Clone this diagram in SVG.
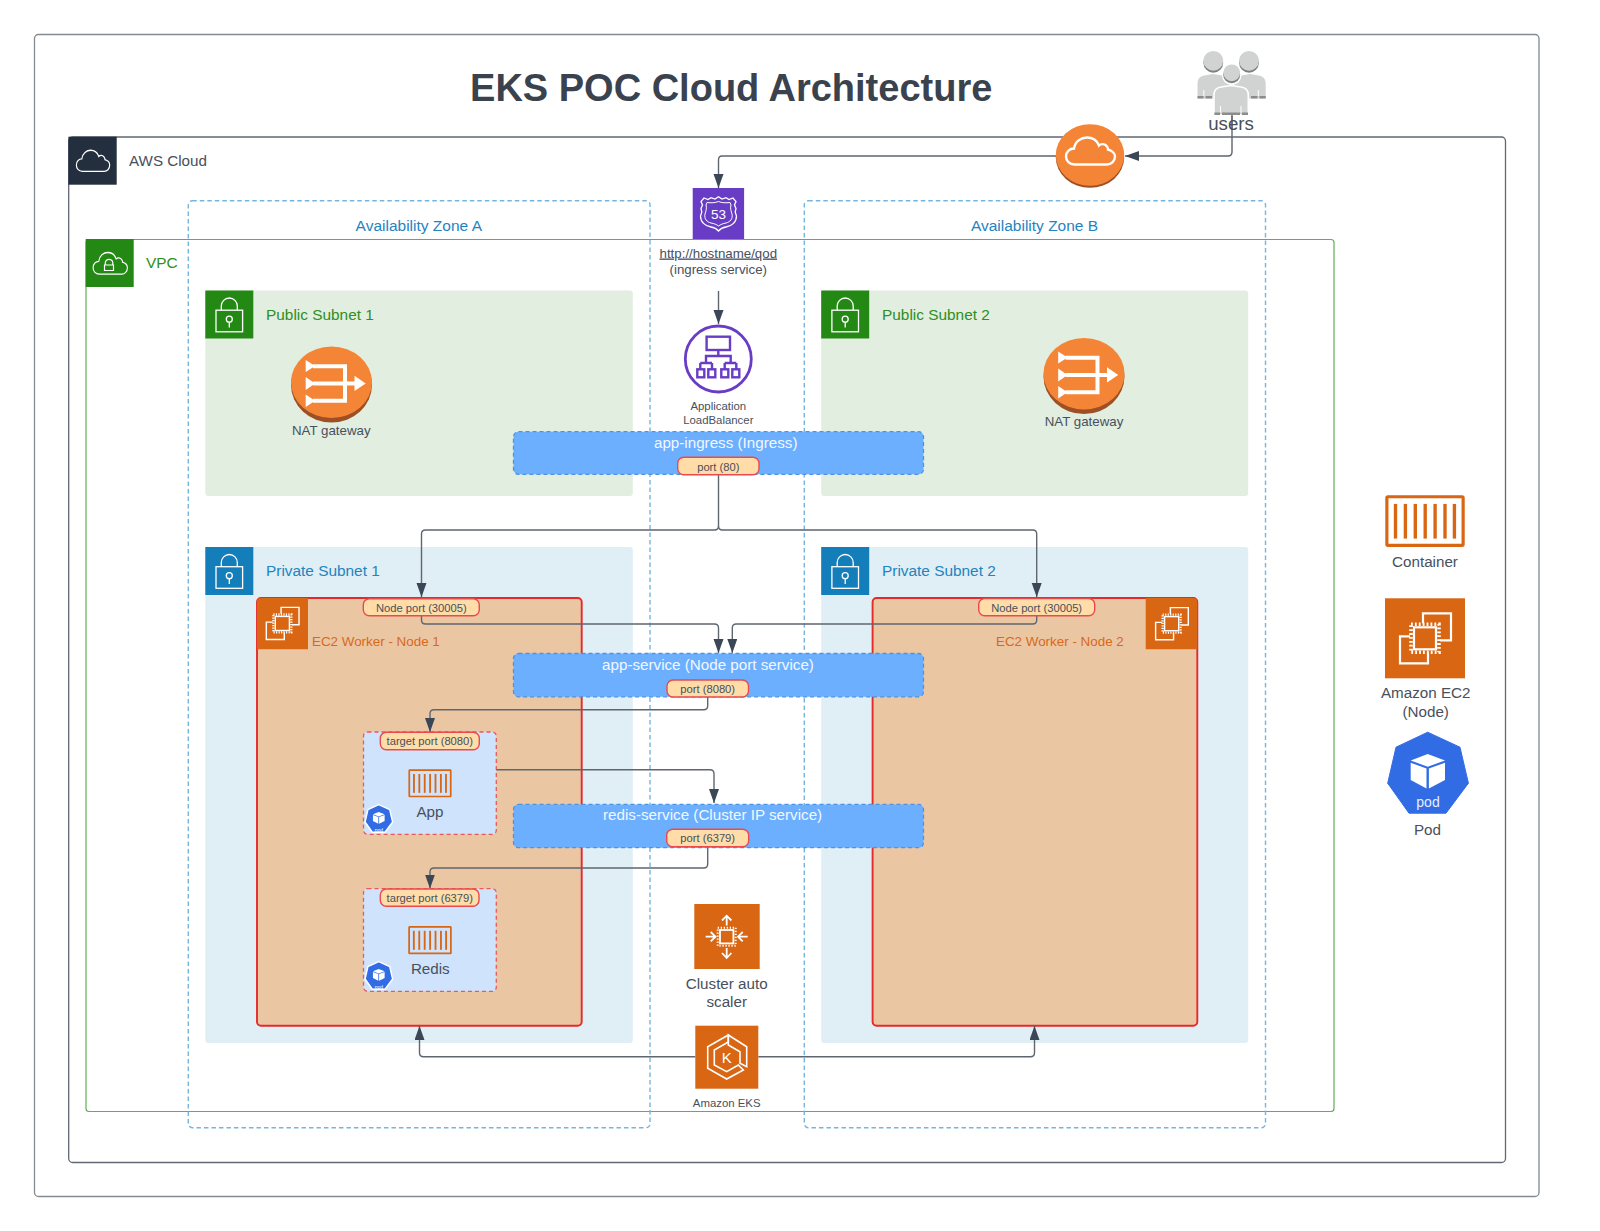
<svg xmlns="http://www.w3.org/2000/svg" width="1600" height="1231" viewBox="0 0 1600 1231">
<style>
text{font-family:"Liberation Sans",Arial,sans-serif;fill:#48505c}
.m{text-anchor:middle}
.l15{font-size:15.2px}
.az{font-size:15.5px;fill:#1f84bf;text-anchor:middle}
.grn{font-size:15.4px;fill:#2f8f20}
.blu{font-size:15.4px;fill:#1f84bf}
.org{font-size:13.4px;fill:#d8691b}
.port{font-size:11.2px;text-anchor:middle}
.svc{font-size:15.2px;fill:#f2f7ff;text-anchor:middle}
.pl{fill:#ffdca8;stroke:#ea4a4d;stroke-width:1.4}
.sv{fill:#6cafff;stroke:#4b93e6;stroke-width:1.3;stroke-dasharray:4 3}
.az-b{fill:none;stroke:#74b6de;stroke-width:1.4;stroke-dasharray:4.5 3}
.ec2{fill:#ebc6a3;stroke:#e52a2a;stroke-width:1.9}
.pod{fill:#cfe3fd;stroke:#ea5a5c;stroke-width:1.3;stroke-dasharray:4 3}
.c{fill:none;stroke:#5f6670;stroke-width:1.4}
.wl{fill:none;stroke:#fff;stroke-width:1.5}
</style>
<defs>
<marker id="arr" markerUnits="userSpaceOnUse" markerWidth="16" markerHeight="12" refX="14" refY="5" orient="auto"><path d="M0 0L14 5L0 10Z" fill="#3b4656"/></marker>
<path id="cloud" d="M10 28C4 28 1 24 1 20C1 15 5 12 9 12C10 5 16 1 22 1C28 1 32 4 34 9C36 7 40 7 42 10C43 11 43 12 43 13C47 14 50 17 50 20C50 25 46 28 42 28Z"/>
<symbol id="lock" viewBox="0 0 48 48" overflow="visible"><g class="wl" style="stroke-width:1.3"><rect x="10.7" y="19.7" width="26.6" height="21.6"/><path d="M16 19.7V15.500A8 8 0 0 1 32 15.500V19.700"/><circle cx="24" cy="28.700" r="3"/><path d="M24 31.700V37"/></g></symbol>
<symbol id="ec2i" viewBox="0 0 80 80" overflow="visible"><g class="wl" style="stroke-width:2.200"><path d="M38 25V15H66V42H55"/><path d="M25 38H15V65H43V54"/></g><rect x="26" y="26" width="28" height="28" fill="none" stroke="#fff" stroke-width="3.600" stroke-dasharray="1.800 2.100"/><rect x="29" y="29" width="22" height="22" fill="#d86613" stroke="#fff" stroke-width="2.200"/></symbol>
<symbol id="box" viewBox="0 0 80 52" overflow="visible"><rect x="1.500" y="1.500" width="77" height="49" fill="none" stroke="#d86613" stroke-width="3.200" rx="1"/><g fill="#d86613"><rect x="8.500" y="8.700" width="3.400" height="35"/><rect x="18.500" y="8.700" width="3.400" height="35"/><rect x="28.500" y="8.700" width="3.400" height="35"/><rect x="38.500" y="8.700" width="3.400" height="35"/><rect x="48.500" y="8.700" width="3.400" height="35"/><rect x="58.500" y="8.700" width="3.400" height="35"/><rect x="68" y="8.700" width="3.400" height="35"/></g></symbol>
<symbol id="podi" viewBox="0 0 81 82" overflow="visible"><path d="M40 0L72.300 15L80.700 51L58.300 81H21.300L0 51L8.300 15Z" fill="#326ce5" stroke="#326ce5" stroke-width="1" stroke-linejoin="round"/><path d="M40 21.700L57.300 28.300L40 34.500L23 28.300Z" fill="#fff"/><path d="M23 30.500L38.800 36.200V56.200L23 47.700Z" fill="#fff"/><path d="M57.300 30.500L41.200 36.200V56.200L57.300 47.700Z" fill="#fff"/></symbol>
<symbol id="spod" viewBox="-2 -2 85 86" overflow="visible"><path d="M40 0L72.300 15L80.700 51L58.300 81H21.300L0 51L8.300 15Z" fill="#326ce5" stroke="#fff" stroke-width="4" stroke-linejoin="round"/><path d="M40 21.700L57.300 28.300L40 34.500L23 28.300Z" fill="#fff"/><path d="M23 30.500L38.800 36.200V56.200L23 47.700Z" fill="#fff"/><path d="M57.300 30.500L41.200 36.200V56.200L57.300 47.700Z" fill="#fff"/></symbol>
<symbol id="nat" viewBox="0 0 81 76" overflow="visible"><ellipse cx="40.500" cy="38.500" rx="40.500" ry="37.500" fill="#9d5025"/><ellipse cx="40.500" cy="35.800" rx="40.500" ry="35.800" fill="#f58536"/><g fill="#fff"><path d="M14.700 13.500L24 19.500L14.700 25.500Z"/><path d="M14.700 30.500L24 37L14.700 43.500Z"/><path d="M14.700 48L24 54.300L14.700 60.500Z"/><path d="M63.500 29.300L74.700 37L63.500 44.500Z"/></g><path d="M22 19.700H54V54.300H22M22 37H65" fill="none" stroke="#fff" stroke-width="4"/></symbol>
</defs>

<g id="frame"><rect x="34.500" y="34.500" width="1504.500" height="1162" rx="4" fill="#fff" stroke="#828a92" stroke-width="1.300"/></g>
<g id="title"><text x="731.200" y="100.500" class="m" style="font-size:38px;font-weight:bold;fill:#3a424e">EKS POC Cloud Architecture</text></g>

<g id="aws-cloud"><rect x="68.700" y="137" width="1436.800" height="1025.500" rx="4" fill="#fff" stroke="#5f6873" stroke-width="1.300"/><rect x="68.400" y="136.700" width="48.300" height="48" fill="#232f3e"/><use href="#cloud" transform="translate(75.700 149.500) scale(.68 .78)" fill="none" stroke="#fff" stroke-width="1.700"/><text x="129" y="166" class="l15">AWS Cloud</text></g>

<g id="vpc"><rect x="86" y="239.500" width="1248" height="872" rx="3" fill="#fff" stroke="#62ad56" stroke-width="1.200"/><rect x="85.700" y="239" width="48" height="48" fill="#248814"/><use href="#cloud" transform="translate(92.400 251.700) scale(.70 .80)" fill="none" stroke="#fff" stroke-width="1.600"/><path d="M105.300 265V262.500A3.800 3.800 0 0 1 112.800 262.500V265M104.500 265H113.500V270.500H104.500Z" fill="none" stroke="#fff" stroke-width="1.200"/><text x="146" y="268" class="grn">VPC</text></g>

<g id="public-subnet-1"><rect x="205.300" y="290.500" width="427.500" height="205.500" rx="3" fill="#e2eee0"/><rect x="205.300" y="290.500" width="48" height="48" fill="#248814"/><use href="#lock" x="205.300" y="290.500" width="48" height="48"/><text x="266" y="320" class="grn">Public Subnet 1</text></g>
<g id="public-subnet-2"><rect x="821.200" y="290.500" width="427" height="205.500" rx="3" fill="#e2eee0"/><rect x="821.200" y="290.500" width="48" height="48" fill="#248814"/><use href="#lock" x="821.200" y="290.500" width="48" height="48"/><text x="882" y="320" class="grn">Public Subnet 2</text></g>
<g id="private-subnet-1"><rect x="205.300" y="547" width="427.500" height="496" rx="3" fill="#e0eef5"/><rect x="205.300" y="547" width="48" height="48" fill="#147eba"/><use href="#lock" x="205.300" y="547" width="48" height="48"/><text x="266" y="576" class="blu">Private Subnet 1</text></g>
<g id="private-subnet-2"><rect x="821.200" y="547" width="427" height="496" rx="3" fill="#e0eef5"/><rect x="821.200" y="547" width="48" height="48" fill="#147eba"/><use href="#lock" x="821.200" y="547" width="48" height="48"/><text x="882" y="576" class="blu">Private Subnet 2</text></g>

<g id="az-a"><rect x="188.300" y="200.700" width="461.700" height="927" rx="4" class="az-b"/><text x="418.800" y="230.700" class="az">Availability Zone A</text></g>
<g id="az-b"><rect x="804.300" y="200.700" width="461.200" height="927" rx="4" class="az-b"/><text x="1034.500" y="230.700" class="az">Availability Zone B</text></g>

<g id="ec2-node-1"><rect x="257" y="598" width="324.700" height="427.700" rx="4" class="ec2"/><path d="M257 649.300V602Q257 598 261 598H308V649.300Z" fill="#d86613"/><use href="#ec2i" x="256.700" y="597.800" width="51.300" height="51.300"/><text x="312" y="646" class="org">EC2 Worker - Node 1</text></g>
<g id="ec2-node-2"><rect x="872.600" y="598" width="324.700" height="427.700" rx="4" class="ec2"/><path d="M1145.700 598H1193.300Q1197.300 598 1197.300 602V649.300H1145.700Z" fill="#d86613"/><use href="#ec2i" x="1146" y="598" width="51.300" height="51.300"/><text x="996" y="646" class="org">EC2 Worker - Node 2</text></g>

<g id="pod-app"><rect x="363.500" y="732" width="132.800" height="102.300" rx="4" class="pod"/><use href="#box" x="408.300" y="769.300" width="43.400" height="28"/><text x="430" y="817" class="m l15">App</text><use href="#spod" x="364.400" y="803.600" width="29" height="30"/><text x="378.800" y="831.700" class="m" style="font-size:5px;fill:#fff">pod</text></g>
<g id="pod-redis"><rect x="363.500" y="888.700" width="132.800" height="102.600" rx="4" class="pod"/><use href="#box" x="408.300" y="926.100" width="43.400" height="28.200"/><text x="430.300" y="974.300" class="m l15">Redis</text><use href="#spod" x="364.400" y="960.600" width="29" height="30"/><text x="378.800" y="988.700" class="m" style="font-size:5px;fill:#fff">pod</text></g>

<g id="connectors">
<path class="c" d="M1232 115V152Q1232 156 1228 156H1125" marker-end="url(#arr)"/>
<path class="c" d="M1056 156H722Q718.500 156 718.500 160V188" marker-end="url(#arr)"/>
<path class="c" d="M718.500 291V324" marker-end="url(#arr)"/>
<path class="c" d="M718.500 475V526Q718.500 530 714.500 530H425.500Q421.500 530 421.500 534V597" marker-end="url(#arr)"/>
<path class="c" d="M718.500 526Q718.500 530 722.500 530H1032.700Q1036.700 530 1036.700 534V597" marker-end="url(#arr)"/>
<path class="c" d="M421.500 616V620Q421.500 624 425.500 624H714.500Q718.500 624 718.500 628V653" marker-end="url(#arr)"/>
<path class="c" d="M1036.700 616V620Q1036.700 624 1032.700 624H736.300Q732.300 624 732.300 628V653" marker-end="url(#arr)"/>
<path class="c" d="M707.700 697V705.700Q707.700 709.700 703.700 709.700H434Q430 709.700 430 713.700V732" marker-end="url(#arr)"/>
<path class="c" d="M496.300 769.700H710Q714 769.700 714 773.700V803" marker-end="url(#arr)"/>
<path class="c" d="M707.700 847V864Q707.700 868 703.700 868H434Q430 868 430 872V888.500" marker-end="url(#arr)"/>
<path class="c" d="M695.300 1056.700H423.500Q419.500 1056.700 419.500 1052.700V1026" marker-end="url(#arr)"/>
<path class="c" d="M758.300 1056.700H1030.500Q1034.500 1056.700 1034.500 1052.700V1026" marker-end="url(#arr)"/>
</g>

<g id="users"><g fill="#7f8080"><circle cx="1213.300" cy="62.800" r="9.900"/><circle cx="1249" cy="62.800" r="9.900"/></g><g fill="#d1d2d2"><circle cx="1213.300" cy="60.800" r="9.900"/><circle cx="1249" cy="60.800" r="9.900"/></g><path d="M1197.500 98.500V83Q1197.500 77 1204 75.500L1213 74L1222 75.500L1231.500 78L1241 75.500L1250 74L1259 75.500Q1265.700 77 1265.700 83V98.500Z" fill="#d1d2d2"/><path d="M1197.500 96H1203.500V98.500H1197.500ZM1205.500 96H1212V98.500H1205.500ZM1251 96H1257.500V98.500H1251ZM1259.500 96H1265.700V98.500H1259.500Z" fill="#8b8c8c"/><path d="M1214 115V95Q1214 88 1221 87L1231 85.500L1241 87Q1248.300 88 1248.300 95V115Z" fill="#d1d2d2" stroke="#fff" stroke-width="1.600"/><path d="M1214.400 112.500H1220V115H1214.400ZM1222 112.500H1240V115H1222ZM1242 112.500H1248V115H1242Z" fill="#8b8c8c"/><path d="M1220.500 106V112.500M1241 106V112.500M1203.800 90V96M1258.300 90V96" stroke="#fff" stroke-width="1"/><circle cx="1231.700" cy="75.500" r="9.700" fill="#fff"/><circle cx="1231.700" cy="74.800" r="8.500" fill="#7f8080"/><circle cx="1231.700" cy="72.800" r="8.400" fill="#d1d2d2"/><path d="M1232 115V130" stroke="#5f6670" stroke-width="1.300"/><text x="1231" y="130" class="m" style="font-size:18.700px">users</text></g>

<g id="internet-gateway"><ellipse cx="1090" cy="157.500" rx="34.200" ry="30.300" fill="#9d5025"/><ellipse cx="1090" cy="155" rx="34.200" ry="30.800" fill="#f58536"/><use href="#cloud" transform="translate(1065 136.500)" fill="none" stroke="#fff" stroke-width="2.400"/></g>

<g id="route53"><rect x="692.700" y="188" width="51.400" height="51" fill="#693cc5"/><path d="M718.500 196.700L722 199L726 197.700L729 199.500L733 198L736 201.500L734.500 205L736 208.500L735.200 212L736.500 216C736.500 222 732 226 726 227C723 227.500 720.500 228.500 718.500 231C716.500 228.500 714 227.500 711 227C705 226 700.500 222 700.500 216L701.800 212L701 208.500L702.500 205L701 201.500L704 198L708 199.500L711 197.700L715 199Z" fill="none" stroke="#fff" stroke-width="1.300"/><path d="M718.500 201.500C722 203 726 203 730 202.500L731 205C730 208 731 211 732 214C733 219 730 222 726 223C723 223.500 720.500 224.500 718.500 226C716.500 224.500 714 223.500 711 223C707 222 704 219 705 214C706 211 707 208 706 205L707 202.500C711 203 715 203 718.500 201.500Z" fill="none" stroke="#fff" stroke-width="1"/><text x="718.500" y="219" class="m" style="font-size:13.500px;fill:#fff">53</text></g>
<g id="ingress-url"><text x="718.300" y="257.500" class="m" style="font-size:13.300px;text-decoration:underline">http://hostname/qod</text><text x="718.300" y="274" class="m" style="font-size:13.300px">(ingress service)</text></g>

<g id="alb"><circle cx="718.300" cy="359" r="33" fill="#fff" stroke="#693cc5" stroke-width="2.800"/><g fill="none" stroke="#693cc5" stroke-width="2.400"><rect x="706.600" y="336.700" width="23.400" height="13.300"/><path d="M718.300 350V356H706V363M718.300 356H730.700V363M700.300 363H712M724.700 363H736.300M700.300 363V369.300M712 363V369.300M724.700 363V369.300M736.300 363V369.300"/><rect x="697.300" y="369.300" width="7" height="8"/><rect x="708.300" y="369.300" width="7" height="8"/><rect x="721.300" y="369.300" width="7" height="8"/><rect x="732.300" y="369.300" width="7" height="8"/></g><text x="718.300" y="410" class="m" style="font-size:11.400px">Application</text><text x="718.300" y="424" class="m" style="font-size:11.400px">LoadBalancer</text></g>

<g id="nat-1"><use href="#nat" x="291" y="346.500" width="81" height="76"/><text x="331.300" y="435" class="m" style="font-size:13.300px">NAT gateway</text></g>
<g id="nat-2"><use href="#nat" x="1043.500" y="338" width="81" height="76"/><text x="1084" y="425.600" class="m" style="font-size:13.300px">NAT gateway</text></g>

<g id="app-ingress"><rect x="513.500" y="431.700" width="410" height="42.600" rx="5" class="sv"/><text x="725.700" y="448.300" class="svc">app-ingress (Ingress)</text><rect x="677.700" y="457.300" width="81.300" height="17.400" rx="6" class="pl"/><text x="718.300" y="470.500" class="port">port (80)</text></g>
<g id="app-service"><rect x="513.500" y="653.500" width="410" height="43.300" rx="5" class="sv"/><text x="708" y="669.800" class="svc">app-service (Node port service)</text><rect x="667" y="680" width="81.500" height="17" rx="6" class="pl"/><text x="707.700" y="693" class="port">port (8080)</text></g>
<g id="redis-service"><rect x="513.500" y="804.400" width="410" height="43.300" rx="5" class="sv"/><text x="712.600" y="820" class="svc">redis-service (Cluster IP service)</text><rect x="666.700" y="829.300" width="82" height="17.400" rx="6" class="pl"/><text x="707.700" y="842" class="port">port (6379)</text></g>

<g id="node-port-1"><rect x="363.300" y="598.700" width="116" height="17" rx="6" class="pl"/><text x="421.300" y="611.500" class="port">Node port (30005)</text></g>
<g id="node-port-2"><rect x="978.700" y="598.500" width="116" height="17.200" rx="6" class="pl"/><text x="1036.700" y="611.500" class="port">Node port (30005)</text></g>
<g id="target-port-8080"><rect x="380.300" y="732.300" width="99" height="17.400" rx="6" class="pl"/><text x="429.800" y="745" class="port">target port (8080)</text></g>
<g id="target-port-6379"><rect x="380.300" y="889" width="98.700" height="17.300" rx="6" class="pl"/><text x="429.800" y="901.800" class="port">target port (6379)</text></g>

<g id="cluster-auto-scaler"><rect x="694.300" y="904" width="65.400" height="65" fill="#d86613"/><g class="wl" style="stroke-width:1.800"><rect x="720" y="930" width="13.400" height="13.400"/><path d="M726.700 925.500V915.700M722 920.500L726.700 915.700L731.400 920.500M726.700 948V958M722 953L726.700 958L731.400 953M705.700 936.700H715.500M710.700 932L715.500 936.700L710.700 941.400M747.700 936.700H738M742.700 932L738 936.700L742.700 941.400"/></g><rect x="717.700" y="927.700" width="18" height="18" fill="none" stroke="#fff" stroke-width="2" stroke-dasharray="1.300 1.700"/><text x="726.700" y="989.300" class="m l15">Cluster auto</text><text x="726.700" y="1006.700" class="m l15">scaler</text></g>

<g id="amazon-eks"><rect x="695.300" y="1025.700" width="63" height="63" fill="#d86613"/><g class="wl" style="stroke-width:1.600"><path d="M728.300 1035L707.700 1046.700V1068.300L726.700 1079L743.300 1070L738.300 1065L726.700 1071.700L714.300 1065V1050L728.300 1042Z"/><path d="M728.300 1035V1045L740 1051.700V1063.300L746.700 1066.700V1046.700Z"/></g><text x="726.700" y="1063" class="m" style="font-size:15px;fill:#fff">K</text><text x="726.700" y="1106.700" class="m" style="font-size:11.400px">Amazon EKS</text></g>

<g id="legend-container"><use href="#box" x="1385" y="495.300" width="80" height="51.500"/><text x="1425" y="567" class="m l15">Container</text></g>
<g id="legend-ec2"><rect x="1385" y="598.300" width="80" height="80" fill="#d86613"/><use href="#ec2i" x="1385" y="598.300" width="80" height="80"/><text x="1425.700" y="698.300" class="m l15">Amazon EC2</text><text x="1425.700" y="716.700" class="m l15">(Node)</text></g>
<g id="legend-pod"><use href="#podi" x="1387.700" y="732.200" width="81" height="82"/><text x="1428" y="806.700" class="m" style="font-size:14px;fill:#e6eeff">pod</text><text x="1427.500" y="835" class="m l15">Pod</text></g>
</svg>
